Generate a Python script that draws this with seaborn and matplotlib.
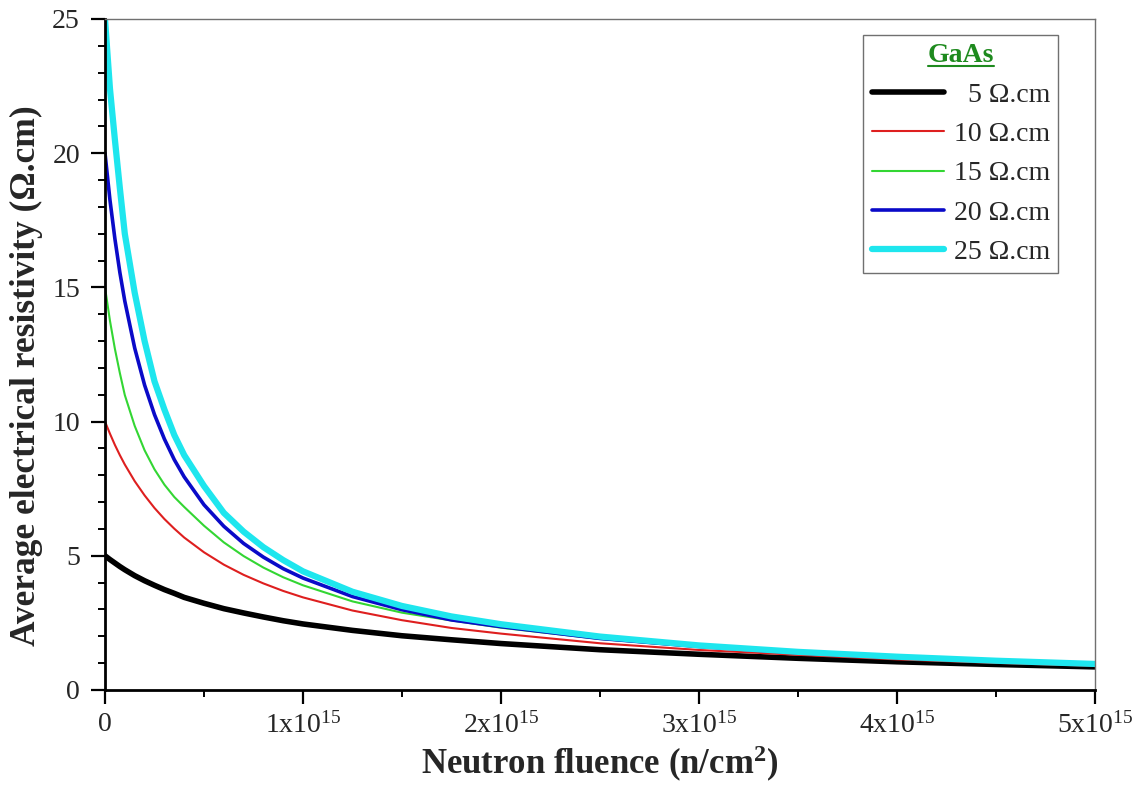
import numpy as np
import pandas as pd
import matplotlib
matplotlib.use("Agg")
import matplotlib.pyplot as plt
import seaborn as sns
from matplotlib.ticker import MultipleLocator
from matplotlib.lines import Line2D

# ---- data ----
fluence_e15 = [0, 0.025, 0.05, 0.075, 0.1, 0.15, 0.2, 0.25, 0.3, 0.35, 0.4, 0.5, 0.6,
               0.7, 0.8, 0.9, 1.0, 1.25, 1.5, 1.75, 2.0, 2.5, 3.0, 3.5, 4.0, 4.5, 5.0]
rho_5 = [5.0, 4.86, 4.73, 4.60, 4.48, 4.26, 4.07, 3.90, 3.74, 3.60, 3.45, 3.23, 3.03,
         2.87, 2.72, 2.58, 2.46, 2.22, 2.02, 1.87, 1.73, 1.50, 1.33, 1.18, 1.05, 0.95, 0.86]
rho_10 = [10.0, 9.55, 9.13, 8.75, 8.40, 7.78, 7.25, 6.78, 6.37, 6.01, 5.68, 5.13, 4.67,
          4.29, 3.97, 3.69, 3.45, 2.96, 2.60, 2.31, 2.10, 1.74, 1.49, 1.31, 1.14, 1.01, 0.90]
rho_15 = [15.0, 13.76, 12.71, 11.81, 10.99, 9.84, 8.93, 8.22, 7.65, 7.19, 6.82, 6.12, 5.50,
          4.99, 4.56, 4.20, 3.90, 3.30, 2.88, 2.59, 2.32, 1.90, 1.60, 1.38, 1.19, 1.05, 0.93]
rho_20 = [20.0, 18.26, 16.81, 15.56, 14.49, 12.74, 11.36, 10.26, 9.35, 8.58, 7.94, 6.90, 6.10,
          5.46, 4.95, 4.52, 4.17, 3.48, 2.99, 2.61, 2.36, 1.92, 1.62, 1.39, 1.21, 1.07, 0.95]
rho_25 = [25.0, 22.41, 20.5, 18.7, 17.0, 14.8, 13.0, 11.5, 10.45, 9.5, 8.75, 7.6, 6.6,
          5.9, 5.32, 4.84, 4.42, 3.66, 3.13, 2.74, 2.45, 1.99, 1.66, 1.42, 1.24, 1.09, 0.97]
series_labels = ["  5 Ω.cm", "10 Ω.cm", "15 Ω.cm", "20 Ω.cm", "25 Ω.cm"]
x_tick_labels = ["0", "1x10$^{15}$", "2x10$^{15}$", "3x10$^{15}$", "4x10$^{15}$", "5x10$^{15}$"]
legend_title = "GaAs"

colors = ["#000000", "#de1f1f", "#33d633", "#0a0ac8", "#1ee6ee"]
widths = [4.0, 1.5, 1.5, 2.6, 4.5]

sns.set_theme(style="white")
plt.rcParams["font.family"] = ["Liberation Serif", "DejaVu Serif"]
plt.rcParams["mathtext.fontset"] = "custom"
plt.rcParams["mathtext.rm"] = "Liberation Serif"
plt.rcParams["mathtext.it"] = "Liberation Serif:italic"
plt.rcParams["mathtext.bf"] = "Liberation Serif:bold"

fig = plt.figure(figsize=(11.4, 7.88), dpi=100)
ax = fig.add_axes([0.0921, 0.1244, 0.8684, 0.8515])

x = np.array(fluence_e15) * 1e15
all_series = [rho_5, rho_10, rho_15, rho_20, rho_25]
for ys, lab, c, w in zip(all_series, series_labels, colors, widths):
    df = pd.DataFrame({"fluence": x, "rho": ys})
    sns.lineplot(data=df, x="fluence", y="rho", ax=ax, color=c, linewidth=w,
                 label=lab, legend=False)

ax.set_xlim(0, 5e15)
ax.set_ylim(0, 25)
ax.set_xticks([0, 1e15, 2e15, 3e15, 4e15, 5e15])
ax.set_xticklabels(x_tick_labels)
ax.xaxis.set_minor_locator(MultipleLocator(0.5e15))
ax.yaxis.set_major_locator(MultipleLocator(5))
ax.yaxis.set_minor_locator(MultipleLocator(1))

ax.tick_params(axis="both", which="major", direction="out", length=10, width=1.6,
               labelsize=20, color="black", bottom=True, left=True, top=False, right=False)
ax.tick_params(axis="both", which="minor", direction="out", length=5, width=1.4,
               color="black", bottom=True, left=True, top=False, right=False)
ax.tick_params(axis="y", which="major", pad=8)
ax.tick_params(axis="x", which="major", pad=6)

for side in ["left", "bottom"]:
    ax.spines[side].set_color("black")
    ax.spines[side].set_linewidth(2.0)
for side in ["top", "right"]:
    ax.spines[side].set_color("#707070")
    ax.spines[side].set_linewidth(1.0)

ax.set_xlabel(r"Neutron fluence (n/cm$^{\mathbf{2}}$)", fontsize=25, fontweight="bold", labelpad=4)
ax.set_ylabel("Average electrical resistivity (Ω.cm)", fontsize=25.5, fontweight="bold")
ax.yaxis.set_label_coords(-0.063, 0.468)

handles = [Line2D([0], [0], color=c, linewidth=w) for c, w in zip(colors, widths)]
leg = ax.legend(handles, series_labels, title=legend_title, loc="upper right",
                bbox_to_anchor=(0.963, 0.976), fontsize=20, title_fontsize=20,
                frameon=True, fancybox=False, edgecolor="#707070", framealpha=1,
                handlelength=2.6, handletextpad=0.35, borderpad=0.3, labelspacing=0.5,
                borderaxespad=0)
leg.get_frame().set_linewidth(1.0)
t = leg.get_title()
t.set_color("#1e8a1e")
t.set_fontweight("bold")

fig.canvas.draw()
bb = t.get_window_extent()
inv = fig.transFigure.inverted()
(x0, y0), (x1, _) = inv.transform([(bb.x0, bb.y0 + 2), (bb.x1, bb.y0 + 2)])
fig.add_artist(Line2D([x0, x1], [y0, y0], transform=fig.transFigure, color="#1e8a1e", linewidth=1.5))

fig.savefig("out.png", dpi=100, facecolor="white")
